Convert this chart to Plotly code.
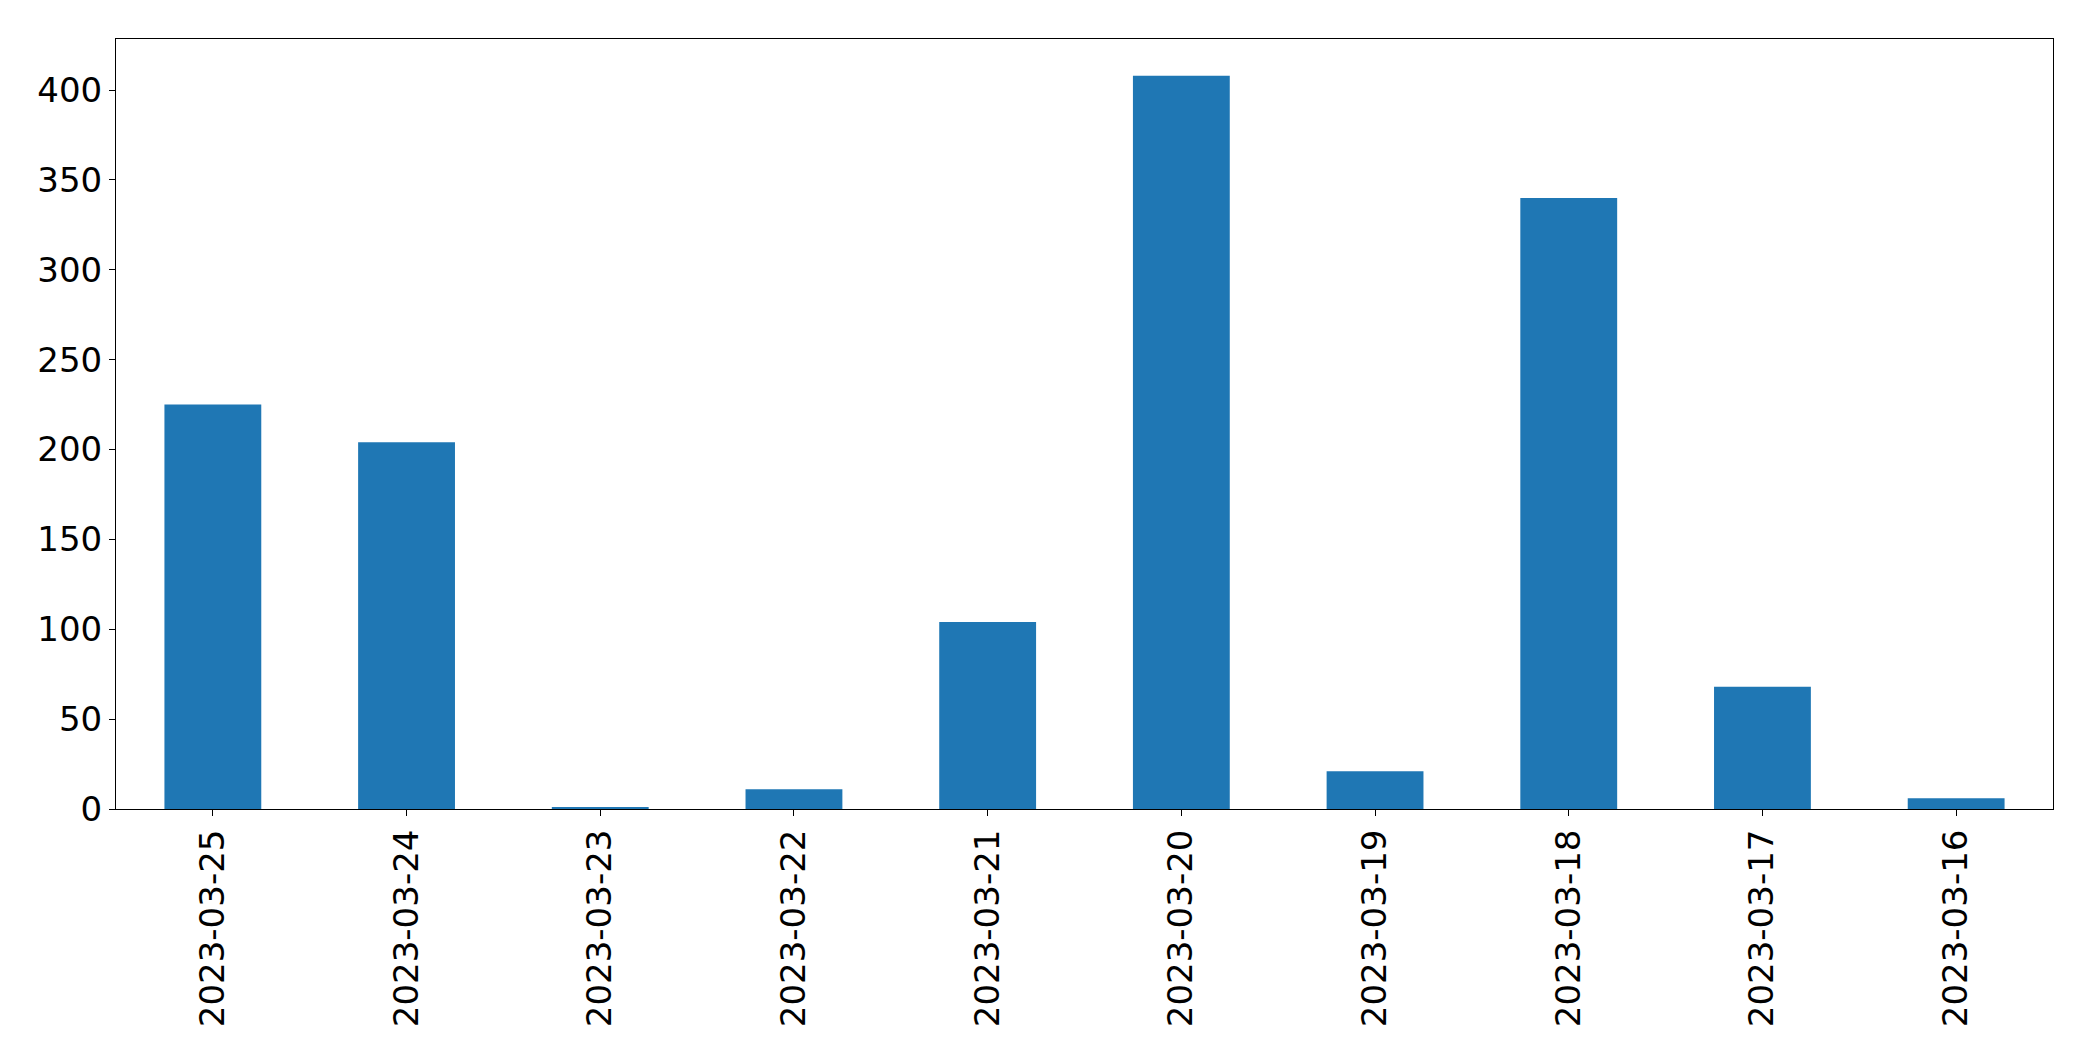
import plotly.graph_objects as go

dates = ["2023-03-25", "2023-03-24", "2023-03-23", "2023-03-22", "2023-03-21",
         "2023-03-20", "2023-03-19", "2023-03-18", "2023-03-17", "2023-03-16"]
counts = [225, 204, 1, 11, 104, 408, 21, 340, 68, 6]
y_ticks = [0, 50, 100, 150, 200, 250, 300, 350, 400]

fig = go.Figure(go.Bar(x=list(range(len(dates))), y=counts, width=0.5,
                       marker=dict(color="#1f77b4", line=dict(width=0))))

font = dict(family="DejaVu Sans", size=34, color="black")
fig.update_layout(
    width=2085, height=1053,
    margin=dict(l=108, r=40, t=31, b=252, autoexpand=False),
    paper_bgcolor="white", plot_bgcolor="white",
    showlegend=False,
    font=font,
)
fig.update_xaxes(
    range=[-0.5, len(dates) - 0.5], automargin=False,
    tickmode="array", tickvals=list(range(len(dates))), ticktext=dates,
    tickangle=-90, ticks="outside", ticklen=6, tickwidth=1, tickcolor="black",
    showline=True, linecolor="black", linewidth=1, mirror=True,
    showgrid=False, zeroline=False, tickfont=font,
)
fig.update_yaxes(
    range=[0, max(counts) * 1.05], automargin=False,
    tickmode="array", tickvals=y_ticks,
    ticks="outside", ticklen=6, tickwidth=1, tickcolor="black",
    showline=True, linecolor="black", linewidth=1, mirror=True,
    showgrid=False, zeroline=False, tickfont=font,
)
fig.write_html("out.html")
